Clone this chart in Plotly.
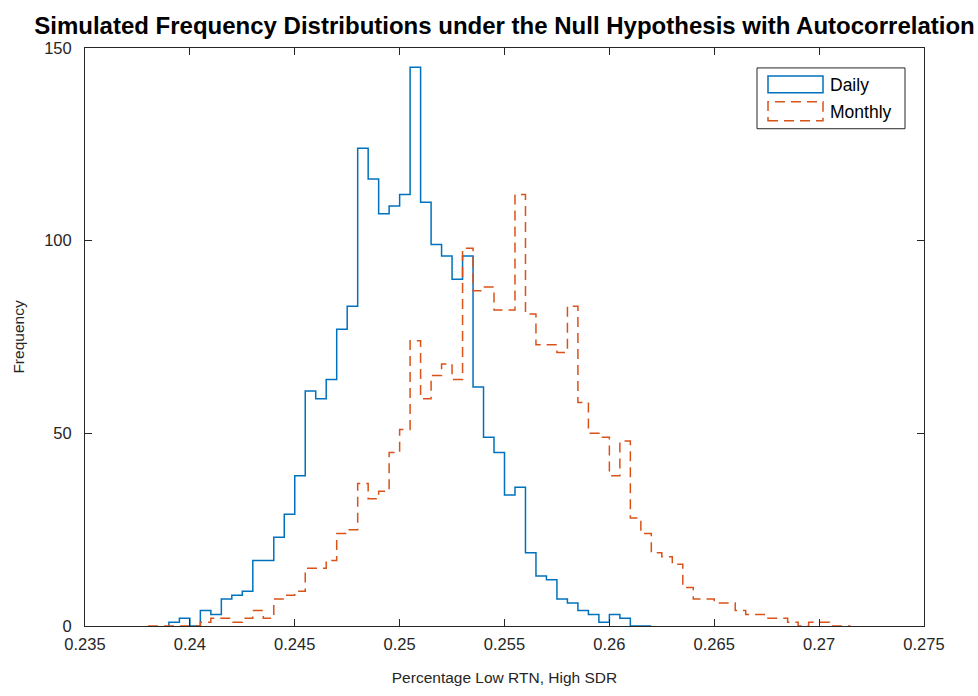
import numpy as np
import plotly.graph_objects as go

# ---------------- data ----------------
bin_width = 0.0005

daily_start = 0.239
daily_counts = [1, 2, 0, 4, 3, 7, 8, 9, 17, 17,
                23, 29, 39, 61, 59, 64, 77, 83, 124, 116,
                107, 109, 112, 145, 110, 99, 96, 90, 96, 62,
                49, 45, 34, 36, 19, 13, 12, 7, 6, 4,
                3, 1, 3, 2, 0, 0]

monthly_start = 0.238
monthly_counts = [0, 0, 0, 0, 0, 1, 2, 2, 1, 2,
                  4, 2, 7, 8, 9, 15, 15, 17, 24, 25,
                  37, 33, 35, 45, 51, 74, 59, 65, 68, 64,
                  98, 87, 88, 82, 82, 112, 81, 73, 73, 71,
                  83, 58, 50, 49, 39, 48, 28, 24, 19, 18,
                  16, 10, 7, 7, 6, 6, 4, 3, 3, 2,
                  2, 1, 0, 1, 1, 0, 0]

series_names = ["Daily", "Monthly"]
x_tick_values = [0.235, 0.24, 0.245, 0.25, 0.255, 0.26, 0.265, 0.27, 0.275]
y_tick_values = [0, 50, 100, 150]

title_text = "Simulated Frequency Distributions under the Null Hypothesis with Autocorrelation"
x_label = "Percentage Low RTN, High SDR"
y_label = "Frequency"

# ---------------- styling ----------------
W, H = 978, 696
ML, MR, MT, MB = 85, 54, 48, 68
BLUE = "#0072BD"
ORANGE = "#D95319"
AX = "#262626"
FONT = "Liberation Sans, Arial, Helvetica, sans-serif"
DASH = "10px,6px"


def stairs(start, counts, width):
    n = len(counts)
    edges = np.round(start + width * np.arange(n + 1), 6)
    xs = np.concatenate([[edges[0]], edges])
    ys = np.concatenate([[0], np.asarray(counts, dtype=float), [0]])
    return xs, ys


fig = go.Figure()
for name, start, counts, color, dash in [
    (series_names[0], daily_start, daily_counts, BLUE, "solid"),
    (series_names[1], monthly_start, monthly_counts, ORANGE, DASH),
]:
    xs, ys = stairs(start, counts, bin_width)
    fig.add_trace(go.Scatter(
        x=xs, y=ys, mode="lines", name=name,
        line=dict(color=color, width=1.5, dash=dash, shape="hv"),
        showlegend=False, hoverinfo="skip",
    ))

axis_common = dict(
    showgrid=False, zeroline=False, showline=True, linecolor=AX, linewidth=1,
    mirror="ticks", ticks="inside", ticklen=7, tickcolor=AX, tickwidth=1,
    tickfont=dict(family=FONT, size=16.5, color=AX),
)

fig.update_xaxes(
    range=[x_tick_values[0], x_tick_values[-1]],
    tickvals=x_tick_values,
    ticktext=[("%g" % v) for v in x_tick_values],
    ticklabelstandoff=3,
    title=dict(text=x_label, font=dict(family=FONT, size=15.5, color=AX), standoff=20),
    **axis_common,
)
fig.update_yaxes(
    range=[y_tick_values[0], y_tick_values[-1]],
    tickvals=y_tick_values,
    ticktext=[("%g" % v) for v in y_tick_values],
    ticklabelstandoff=9,
    title=dict(text=y_label, font=dict(family=FONT, size=15.5, color=AX), standoff=15),
    **axis_common,
)

# ---------------- legend drawn as in the reference (rectangle icons) ----------------
pw, ph = W - ML - MR, H - MT - MB


def px(X):
    return (X - ML) / pw


def py(Y):
    return 1 - (Y - MT) / ph


shapes = [
    dict(type="rect", xref="paper", yref="paper", x0=px(757), x1=px(905), y0=py(129), y1=py(68),
         line=dict(color=AX, width=1), fillcolor="white", layer="above"),
    dict(type="rect", xref="paper", yref="paper", x0=px(768), x1=px(823), y0=py(93), y1=py(76),
         line=dict(color=BLUE, width=1.5), fillcolor="rgba(0,0,0,0)", layer="above"),
    dict(type="rect", xref="paper", yref="paper", x0=px(768), x1=px(823), y0=py(121), y1=py(102),
         line=dict(color=ORANGE, width=1.5, dash=DASH), fillcolor="rgba(0,0,0,0)", layer="above"),
]
annotations = [
    dict(text=series_names[0], xref="paper", yref="paper", x=px(828), y=py(85),
         xanchor="left", yanchor="middle", showarrow=False,
         font=dict(family=FONT, size=17.5, color="#000000")),
    dict(text=series_names[1], xref="paper", yref="paper", x=px(828), y=py(112),
         xanchor="left", yanchor="middle", showarrow=False,
         font=dict(family=FONT, size=17.5, color="#000000")),
]

fig.update_layout(
    width=W, height=H,
    margin=dict(l=ML, r=MR, t=MT, b=MB, pad=0),
    paper_bgcolor="white", plot_bgcolor="white",
    title=dict(text="<b>" + title_text + "</b>", x=0.5, xref="paper", xanchor="center",
               y=1 - 26 / H, yref="container", yanchor="middle",
               font=dict(family=FONT, size=24, color="#000000")),
    shapes=shapes, annotations=annotations,
    showlegend=False,
)

fig.write_html("out.html")
